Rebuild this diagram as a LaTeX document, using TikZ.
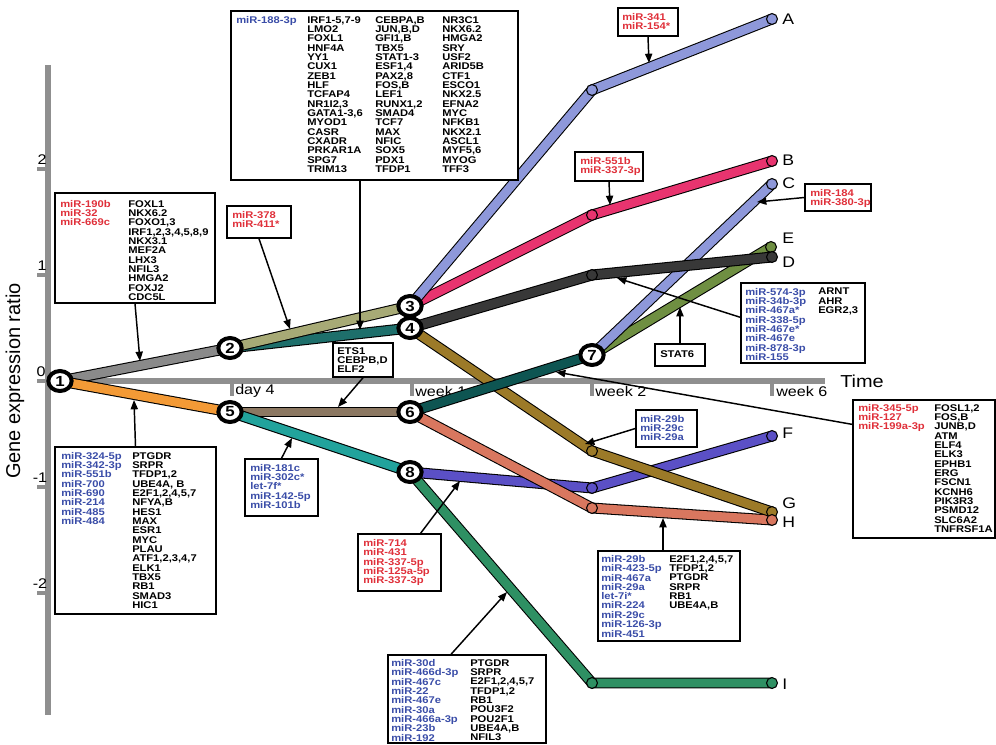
\documentclass[tikz,border=0pt]{standalone}
\usepackage{fontspec}
\setmainfont{Liberation Sans}
\newfontfamily\labfont{Liberation Sans}[FakeStretch=1.15]
\usetikzlibrary{arrows.meta,fit,shapes.geometric,calc}

% trajectory colours
\definecolor{cGray}{HTML}{8A8A8A}
\definecolor{cOrange}{HTML}{F39A36}
\definecolor{cKhaki}{HTML}{A7AA76}
\definecolor{cTealDark}{HTML}{1E6F6B}
\definecolor{cLav}{HTML}{8E98DA}
\definecolor{cPink}{HTML}{E8346F}
\definecolor{cBlack}{HTML}{383838}
\definecolor{cGold}{HTML}{9C7A28}
\definecolor{cBrown}{HTML}{8C7862}
\definecolor{cTeal}{HTML}{22A39C}
\definecolor{cTealDeep}{HTML}{0E5552}
\definecolor{cSalmon}{HTML}{D9775F}
\definecolor{cOlive}{HTML}{6F8F42}
\definecolor{cViolet}{HTML}{5B50C6}
\definecolor{cGreen}{HTML}{2E9063}
\definecolor{axisgray}{HTML}{8F8F8F}
% text colours
\definecolor{mirblue}{HTML}{3A4DA8}
\definecolor{mirred}{HTML}{E0303A}

\tikzset{
  axis/.style={draw=axisgray, line width=3.8pt},
  tickbar/.style={draw=axisgray, line width=2.6pt},
  ticklab/.style={inner sep=0pt, font=\labfont\fontsize{10.5}{12}\selectfont},
  timelab/.style={anchor=west, inner sep=0pt, font=\labfont\fontsize{10.5}{12}\selectfont},
  traj/.style={line width=0.8pt, double=#1, double distance=6.6pt, line join=round},
  joint/.style={circle, draw=black, line width=0.8pt, fill=#1, minimum size=8.2pt, inner sep=0pt},
  stage/.style={ellipse, draw=black, line width=3pt, fill=white, minimum width=17.5pt,
    minimum height=15pt, inner sep=0pt, font=\labfont\bfseries\fontsize{11}{12}\selectfont},
  endlab/.style={anchor=west, inner sep=0pt, font=\labfont\fontsize{11.5}{13}\selectfont},
  panel/.style={draw=black, line width=1.1pt, fill=white, inner sep=0pt},
  lst/.style={anchor=north west, inner sep=0pt, align=left,
    font=\labfont\bfseries\fontsize{7.3}{7}\selectfont},
  blue/.style={text=mirblue},
  red/.style={text=mirred},
  ptr/.style={draw=black, line width=1.1pt, -{Triangle[length=7pt,width=5.4pt]}},
}

\begin{document}
\begin{tikzpicture}[x=0.75pt,y=-0.75pt]
\useasboundingbox (0,0) rectangle (996,744);
\fill[white] (0,0) rectangle (996,744);

% ---------- axes ----------
\draw[axis] (48,65) -- (48,715);
\draw[axis] (48,381) -- (825,381);
\draw[tickbar] (37,169) -- (48,169);
\draw[tickbar] (37,275) -- (48,275);
\draw[tickbar] (37,381) -- (48,381);
\draw[tickbar] (37,487) -- (48,487);
\draw[tickbar] (37,593) -- (48,593);
\node[ticklab] (yl2) at (42,160) {2};
\node[ticklab] (yl1) at (42,266) {1};
\node[ticklab] (yl0) at (41,372) {0};
\node[ticklab] (ylm1) at (40,478) {-1};
\node[ticklab] (ylm2) at (40,584) {-2};
\node[rotate=90, inner sep=0pt, font=\fontsize{15}{17}\selectfont] (ylab) at (15,381) {Gene expression ratio};
\node[anchor=west, inner sep=0pt, font=\labfont\fontsize{13}{15}\selectfont] (xlab) at (840,381) {Time};

\draw[tickbar] (232,381) -- (232,396);
\draw[tickbar] (412,381) -- (412,396);
\draw[tickbar] (592,381) -- (592,396);
\draw[tickbar] (772,381) -- (772,396);
\node[timelab] (td4) at (235,391) {day 4};
\node[timelab] (tw1) at (415,391) {week 1};
\node[timelab] (tw2) at (595,391) {week 2};
\node[timelab] (tw6) at (776,391) {week 6};

% ---------- stage positions ----------
\coordinate (p1) at (60,381);
\coordinate (p2) at (230,348);
\coordinate (p3) at (410,306);
\coordinate (p4) at (410,328);
\coordinate (p5) at (230,412);
\coordinate (p6) at (410,412);
\coordinate (p7) at (592,355);
\coordinate (p8) at (410,472);
% bends
\coordinate (jA) at (592,90);
\coordinate (jB) at (592,215);
\coordinate (jD) at (592,275);
\coordinate (jG) at (592,451);
\coordinate (jH) at (592,508);
\coordinate (jF) at (592,488);
\coordinate (jI) at (592,683);
% end points
\coordinate (eA) at (772,19);
\coordinate (eB) at (772,161);
\coordinate (eC) at (772,184);
\coordinate (eD) at (772,257);
\coordinate (eE) at (771,247);
\coordinate (eF) at (772,436);
\coordinate (eG) at (772,512);
\coordinate (eH) at (772,520);
\coordinate (eI) at (772,683);

% ---------- trajectories ----------
\draw[traj=cGray] (p1) -- (p2);
\draw[traj=cOrange] (p1) -- (p5);
\draw[traj=cTealDark] (p2) -- (p4);
\draw[traj=cKhaki] (p2) -- (p3);
\draw[traj=cBrown] (p5) -- (p6);
\draw[traj=cTeal] (p5) -- (p8);
\draw[traj=cGreen] (p8) -- (jI) -- (eI);
\draw[traj=cViolet] (p8) -- (jF) -- (eF);
\draw[traj=cSalmon] (p6) -- (jH) -- (eH);
\draw[traj=cGold] (p4) -- (jG) -- (eG);
\draw[traj=cTealDeep] (p6) -- (p7);
\draw[traj=cOlive] (p7) -- (eE);
\draw[traj=cLav] (p7) -- (eC);
\draw[traj=cBlack] (p4) -- (jD) -- (eD);
\draw[traj=cPink] (p3) -- (jB) -- (eB);
\draw[traj=cLav] (p3) -- (jA) -- (eA);

\node[joint=cLav] (kA) at (jA) {};
\node[joint=cPink] (kB) at (jB) {};
\node[joint=cBlack] (kD) at (jD) {};
\node[joint=cGold] (kG) at (jG) {};
\node[joint=cSalmon] (kH) at (jH) {};
\node[joint=cViolet] (kF) at (jF) {};
\node[joint=cGreen] (kI) at (jI) {};
\node[joint=cLav] (fA) at (eA) {};
\node[joint=cPink] (fB) at (eB) {};
\node[joint=cLav] (fC) at (eC) {};
\node[joint=cOlive] (fE) at (eE) {};
\node[joint=cBlack] (fD) at (eD) {};
\node[joint=cViolet] (fF) at (eF) {};
\node[joint=cGold] (fG) at (eG) {};
\node[joint=cSalmon] (fH) at (eH) {};
\node[joint=cGreen] (fI) at (eI) {};

\node[endlab] (lA) at (782,19) {A};
\node[endlab] (lB) at (782,160) {B};
\node[endlab] (lC) at (782,183) {C};
\node[endlab] (lE) at (782,238) {E};
\node[endlab] (lD) at (782,262) {D};
\node[endlab] (lF) at (782,433) {F};
\node[endlab] (lG) at (782,503) {G};
\node[endlab] (lH) at (782,522) {H};
\node[endlab] (lI) at (782,684) {I};

\node[stage] (s1) at (p1) {1};
\node[stage] (s2) at (p2) {2};
\node[stage] (s3) at (p3) {3};
\node[stage] (s4) at (p4) {4};
\node[stage] (s5) at (p5) {5};
\node[stage] (s6) at (p6) {6};
\node[stage] (s7) at (p7) {7};
\node[stage] (s8) at (p8) {8};

% ---------- annotation panels ----------
% day 4 -> week 1 (upper)
\node[panel, fit={(231,11) (518,180)}] (bxtop) {};
\node[lst, blue] (bxtopm) at (236,16) {miR-188-3p};
\node[lst] (bxtopa) at (307,16) {IRF1-5,7-9\\LMO2\\FOXL1\\HNF4A\\YY1\\CUX1\\ZEB1\\HLF\\TCFAP4\\NR1I2,3\\GATA1-3,6\\MYOD1\\CASR\\CXADR\\PRKAR1A\\SPG7\\TRIM13};
\node[lst] (bxtopb) at (375,16) {CEBPA,B\\JUN,B,D\\GFI1,B\\TBX5\\STAT1-3\\ESF1,4\\PAX2,8\\FOS,B\\LEF1\\RUNX1,2\\SMAD4\\TCF7\\MAX\\NFIC\\SOX5\\PDX1\\TFDP1};
\node[lst] (bxtopc) at (442,16) {NR3C1\\NKX6.2\\HMGA2\\SRY\\USF2\\ARID5B\\CTF1\\ESCO1\\NKX2.5\\EFNA2\\MYC\\NFKB1\\NKX2.1\\ASCL1\\MYF5,6\\MYOG\\TFF3};

% day 0 -> day 4 (upper)
\node[panel, fit={(55,193) (215,303)}] (bxL1) {};
\node[lst, red] (bxL1m) at (60,200) {miR-190b\\miR-32\\miR-669c};
\node[lst] (bxL1g) at (128,200) {FOXL1\\NKX6.2\\FOXO1,3\\IRF1,2,3,4,5,8,9\\NKX3.1\\MEF2A\\LHX3\\NFIL3\\HMGA2\\FOXJ2\\CDC5L};

% day 0 -> day 4 (lower)
\node[panel, fit={(55,447) (216,614)}] (bxL2) {};
\node[lst, blue] (bxL2m) at (61,452) {miR-324-5p\\miR-342-3p\\miR-551b\\miR-700\\miR-690\\miR-214\\miR-485\\miR-484};
\node[lst] (bxL2g) at (132,452) {PTGDR\\SRPR\\TFDP1,2\\UBE4A, B\\E2F1,2,4,5,7\\NFYA,B\\HES1\\MAX\\ESR1\\MYC\\PLAU\\ATF1,2,3,4,7\\ELK1\\TBX5\\RB1\\SMAD3\\HIC1};

\node[panel, fit={(227,206) (291,238)}] (bx378) {};
\node[lst, red] (bx378m) at (232,211) {miR-378\\miR-411*};

\node[panel, fit={(333,343) (393,377)}] (bxets) {};
\node[lst] (bxetsg) at (337,347) {ETS1\\CEBPB,D\\ELF2};

\node[panel, fit={(245,459) (318,516)}] (bx181) {};
\node[lst, blue] (bx181m) at (250,464) {miR-181c\\miR-302c*\\let-7f*\\miR-142-5p\\miR-101b};

\node[panel, fit={(358,534) (441,591)}] (bx714) {};
\node[lst, red] (bx714m) at (363,539) {miR-714\\miR-431\\miR-337-5p\\miR-125a-5p\\miR-337-3p};

\node[panel, fit={(388,655) (546,743)}] (bxbot) {};
\node[lst, blue] (bxbotm) at (391,659) {miR-30d\\miR-466d-3p\\miR-467c\\miR-22\\miR-467e\\miR-30a\\miR-466a-3p\\miR-23b\\miR-192};
\node[lst] (bxbotg) at (470,659) {PTGDR\\SRPR\\E2F1,2,4,5,7\\TFDP1,2\\RB1\\POU3F2\\POU2F1\\UBE4A,B\\NFIL3};

\node[panel, fit={(598,551) (740,641)}] (bxH) {};
\node[lst, blue] (bxHm) at (601,555) {miR-29b\\miR-423-5p\\miR-467a\\miR-29a\\let-7i*\\miR-224\\miR-29c\\miR-126-3p\\miR-451};
\node[lst] (bxHg) at (669,555) {E2F1,2,4,5,7\\TFDP1,2\\PTGDR\\SRPR\\RB1\\UBE4A,B};

\node[panel, fit={(636,410) (697,447)}] (bx29) {};
\node[lst, blue] (bx29m) at (640,415) {miR-29b\\miR-29c\\miR-29a};

\node[panel, fit={(853,400) (995,538)}] (bxR) {};
\node[lst, red] (bxRm) at (858,404) {miR-345-5p\\miR-127\\miR-199a-3p};
\node[lst] (bxRg) at (934,404) {FOSL1,2\\FOS,B\\JUNB,D\\ATM\\ELF4\\ELK3\\EPHB1\\ERG\\FSCN1\\KCNH6\\PIK3R3\\PSMD12\\SLC6A2\\TNFRSF1A};

\node[panel, fit={(741,283) (865,363)}] (bx574) {};
\node[lst, blue] (bx574m) at (745,288) {miR-574-3p\\miR-34b-3p\\miR-467a*\\miR-338-5p\\miR-467e*\\miR-467e\\miR-878-3p\\miR-155};
\node[lst] (bx574g) at (818,288) {ARNT\\AHR\\EGR2,3};

\node[panel, fit={(655,344) (705,366)}] (bxstat) {};
\node[lst] (bxstatg) at (660,350) {STAT6};

\node[panel, fit={(805,184) (871,211)}] (bx184) {};
\node[lst, red] (bx184m) at (810,189) {miR-184\\miR-380-3p};

\node[panel, fit={(575,152) (643,181)}] (bx551) {};
\node[lst, red] (bx551m) at (580,157) {miR-551b\\miR-337-3p};

\node[panel, fit={(618,8) (678,36)}] (bx341) {};
\node[lst, red] (bx341m) at (622,13) {miR-341\\miR-154*};

% ---------- pointers ----------
\coordinate (tTop) at (360,330);
\coordinate (tL1) at (140,361);
\coordinate (tL2) at (134,400);
\coordinate (t378) at (290,329);
\coordinate (tets) at (338,407);
\coordinate (t181) at (292,438);
\coordinate (t714) at (460,481);
\coordinate (tbot) at (507,592);
\coordinate (tH) at (663,518);
\coordinate (t29) at (585,444);
\coordinate (tR) at (556,372);
\coordinate (t574) at (617,278);
\coordinate (tstat) at (680,307);
\coordinate (t184) at (757,202);
\coordinate (t551) at (610,205);
\coordinate (t341) at (649,63);

\draw[ptr] (bxtop.south -| tTop) -- (tTop);
\draw[ptr] (bxL1.south) -- (tL1);
\draw[ptr] (bxL2.north) -- (tL2);
\draw[ptr] (bx378.south) -- (t378);
\draw[ptr] (bxets.south) -- (tets);
\draw[ptr] (bx181.north) -- (t181);
\draw[ptr] ($(bx714.north)!0.5!(bx714.north east)$) -- (t714);
\draw[ptr] ($(bxbot.north west)!0.4!(bxbot.north east)$) -- (tbot);
\draw[ptr] (bxH.north -| tH) -- (tH);
\draw[ptr] (bx29.west) -- (t29);
\draw[ptr] ($(bxR.north west)!0.18!(bxR.south west)$) -- (tR);
\draw[ptr] ($(bx574.north west)!0.43!(bx574.south west)$) -- (t574);
\draw[ptr] (bxstat.north) -- (tstat);
\draw[ptr] (bx184.west) -- (t184);
\draw[ptr] (bx551.south) -- (t551);
\draw[ptr] (bx341.south) -- (t341);
\end{tikzpicture}
\end{document}
